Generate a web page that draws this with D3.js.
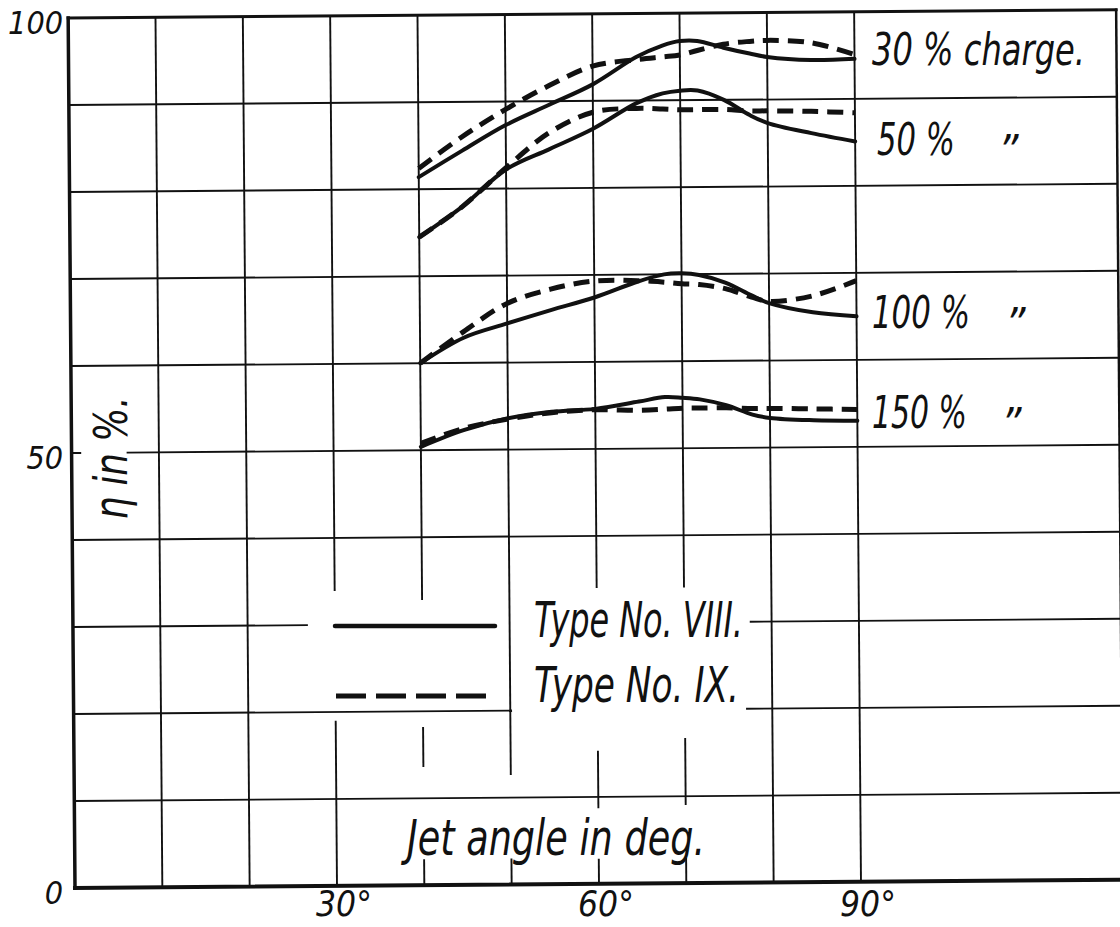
<!DOCTYPE html>
<html>
<head>
<meta charset="utf-8">
<script src="https://cdn.jsdelivr.net/npm/d3@7/dist/d3.min.js"></script>
<style>
	body { margin: 0; background: #fff; }
	svg { display: block; }
	text { font-family: "Liberation Sans Narrow", "DejaVu Sans Condensed", "Liberation Sans", sans-serif; font-style: italic; fill: #111; }
</style>
</head>
<body>
<svg id="chart" width="1120" height="927"></svg>
<script>

//jet angle in degrees, shared by every curve
var angles = [40, 45, 50, 55, 60, 65, 68, 70, 72, 75, 78, 80, 85, 90];

//efficiency in %, type VIII (solid) and type IX (dashed)
var viii30 = [81.4, 84.4, 87.3, 89.6, 91.9, 95.0, 96.3, 96.8, 96.8, 96.0, 95.3, 94.9, 94.5, 94.6];
var ix30 = [82.4, 86.0, 89.1, 91.8, 94.0, 94.7, 95.0, 95.2, 95.7, 96.4, 96.7, 96.8, 96.5, 95.1];
var viii50 = [74.5, 78.0, 82.2, 84.5, 86.8, 89.7, 90.8, 91.1, 91.1, 90.0, 88.2, 87.3, 86.1, 85.1];
var ix50 = [74.5, 78.0, 82.4, 86.4, 88.7, 89.1, 89.0, 88.9, 88.9, 88.9, 88.7, 88.7, 88.6, 88.4];
var viii100 = [60.0, 62.9, 64.5, 66.0, 67.4, 69.2, 70.0, 70.1, 69.9, 69.0, 67.5, 66.6, 65.5, 65.0];
var ix100 = [60.0, 63.6, 66.8, 68.4, 69.3, 69.3, 69.1, 68.9, 68.8, 68.3, 67.3, 66.8, 67.4, 69.1];
var viii150 = [50.4, 52.3, 53.6, 54.3, 54.6, 55.4, 55.9, 55.8, 55.6, 54.9, 53.8, 53.4, 53.1, 53.0];
var ix150 = [50.8, 52.5, 53.5, 54.2, 54.5, 54.4, 54.5, 54.6, 54.6, 54.6, 54.5, 54.5, 54.4, 54.3];

var chargeLabels = ['30 % charge.', '50 %', '100 %', '150 %'];
var typeLabels = ['Type No. VIII.', 'Type No. IX.'];
var xTicks = [30, 60, 90];
var yTicks = [0, 50, 100];

var series = [
	{ vals: viii30, dashed: false }, { vals: ix30, dashed: true },
	{ vals: viii50, dashed: false }, { vals: ix50, dashed: true },
	{ vals: viii100, dashed: false }, { vals: ix100, dashed: true },
	{ vals: viii150, dashed: false }, { vals: ix150, dashed: true }
];

var ink = '#111';
var svg = d3.select('#chart');
var x = d3.scaleLinear().domain([0, 120]).range([75, 1123]);
var y = d3.scaleLinear().domain([0, 100]).range([888, 18]);

//the scanned sheet sits a little crooked
var sheet = svg.append('g').attr('transform', 'rotate(-0.45,' + x(0) + ',' + y(0) + ')');

//grid, with the pieces left blank round the lettering
var vGrid = [
	[10, [[0, 100]]],
	[20, [[0, 100]]],
	[30, [[0, 19], [33.9, 100]]],
	[40, [[0, 3], [13.6, 18.2], [32.8, 100]]],
	[50, [[0, 3], [12.6, 100]]],
	[60, [[0, 2.9], [8.7, 15.3], [34, 100]]],
	[70, [[0, 2.9], [9, 16.7], [34, 100]]],
	[80, [[0, 100]]],
	[90, [[0, 100]]]
];
var hGrid = [
	[10, [[0, 120]]],
	[20, [[0, 50.2], [77, 120]]],
	[30, [[0, 26.9], [77.5, 120]]],
	[40, [[0, 120]]],
	[50, [[0, 1.1], [6.3, 120]]],
	[60, [[0, 120]]],
	[70, [[0, 120]]],
	[80, [[0, 120]]],
	[90, [[0, 120]]]
];

var grid = sheet.append('g').attr('stroke', ink).attr('stroke-width', 1.9);
vGrid.forEach(function(g) {
	g[1].forEach(function(s) {
		grid.append('line')
			.attr('x1', x(g[0])).attr('x2', x(g[0]))
			.attr('y1', y(s[0])).attr('y2', y(s[1]));
	});
});
hGrid.forEach(function(g) {
	g[1].forEach(function(s) {
		grid.append('line')
			.attr('x1', x(s[0])).attr('x2', x(s[1]))
			.attr('y1', y(g[0])).attr('y2', y(g[0]));
	});
});

//frame
var frame = sheet.append('g').attr('stroke', ink).attr('stroke-linecap', 'square');
frame.append('line').attr('x1', x(0)).attr('x2', x(0)).attr('y1', y(0)).attr('y2', y(100)).attr('stroke-width', 3.5);
frame.append('line').attr('x1', x(0)).attr('x2', x(120)).attr('y1', y(0)).attr('y2', y(0)).attr('stroke-width', 4);
frame.append('line').attr('x1', x(0)).attr('x2', x(120)).attr('y1', y(100)).attr('y2', y(100)).attr('stroke-width', 3);
frame.append('line').attr('x1', x(120)).attr('x2', x(120)).attr('y1', y(0)).attr('y2', y(100)).attr('stroke-width', 2.5);

//curves
var line = d3.line()
	.x(function(d, i) { return x(angles[i]); })
	.y(function(d) { return y(d); })
	.curve(d3.curveCatmullRom.alpha(0.5));

sheet.append('g').selectAll('path')
	.data(series)
	.enter().append('path')
	.attr('d', function(d) { return line(d.vals); })
	.attr('fill', 'none')
	.attr('stroke', ink)
	.attr('stroke-width', function(d) { return d.dashed ? 5 : 4; })
	.attr('stroke-dasharray', function(d) { return d.dashed ? '16,9' : null; })
	.attr('stroke-linecap', function(d) { return d.dashed ? 'butt' : 'round'; });

//axis lettering
svg.selectAll('.ylab')
	.data(yTicks)
	.enter().append('text')
	.attr('class', 'ylab')
	.attr('x', 63)
	.attr('y', function(d) { return y(d) + 16; })
	.attr('text-anchor', 'end')
	.attr('font-size', 32)
	.text(function(d) { return d; });

svg.selectAll('.xlab')
	.data(xTicks)
	.enter().append('text')
	.attr('class', 'xlab')
	.attr('x', function(d) { return x(d) + 7; })
	.attr('y', 916)
	.attr('text-anchor', 'middle')
	.attr('font-size', 35)
	.text(function(d) { return d + '\u00b0'; });

svg.append('text')
	.attr('x', 407).attr('y', 855)
	.attr('font-size', 50)
	.attr('textLength', 298).attr('lengthAdjust', 'spacingAndGlyphs')
	.text('Jet angle in deg.');

svg.append('text')
	.attr('transform', 'translate(127,458) rotate(-90)')
	.attr('text-anchor', 'middle')
	.attr('font-size', 46)
	.attr('textLength', 123).attr('lengthAdjust', 'spacingAndGlyphs')
	.text('\u03b7 in %.');

//legend
var legend = svg.append('g');
legend.append('line').attr('x1', 335).attr('x2', 495).attr('y1', 626).attr('y2', 626)
	.attr('stroke', ink).attr('stroke-width', 4.5).attr('stroke-linecap', 'round');
legend.append('line').attr('x1', 336).attr('x2', 492).attr('y1', 696).attr('y2', 696)
	.attr('stroke', ink).attr('stroke-width', 5).attr('stroke-dasharray', '30,10');
legend.selectAll('text')
	.data(typeLabels)
	.enter().append('text')
	.attr('x', 534)
	.attr('y', function(d, i) { return 637 + i * 65; })
	.attr('font-size', 50)
	.attr('textLength', function(d, i) { return i ? 205 : 209; })
	.attr('lengthAdjust', 'spacingAndGlyphs')
	.text(function(d) { return d; });

//charge labels on the right, squeezed sideways to the handwritten width
var labelY = [65, 155, 328, 428];
var labelW = [213, 78, 98, 95];
svg.selectAll('.charge')
	.data(chargeLabels)
	.enter().append('text')
	.attr('class', 'charge')
	.attr('font-size', 45)
	.text(function(d) { return d; })
	.attr('transform', function(d, i) {
		var w = this.getComputedTextLength();
		var sx = labelW[i] / w;
		return 'translate(' + (i == 1 ? 877 : 872) + ',' + labelY[i] + ') scale(' + sx + ',1)';
	});

//ditto marks
svg.selectAll('.ditto')
	.data(chargeLabels.slice(1))
	.enter().append('text')
	.attr('class', 'ditto')
	.attr('x', function(d, i) { return [998, 1005, 1001][i]; })
	.attr('y', function(d, i) { return labelY[i + 1] + 12; })
	.attr('font-size', 44)
	.text('\u201d');

</script>
</body>
</html>
